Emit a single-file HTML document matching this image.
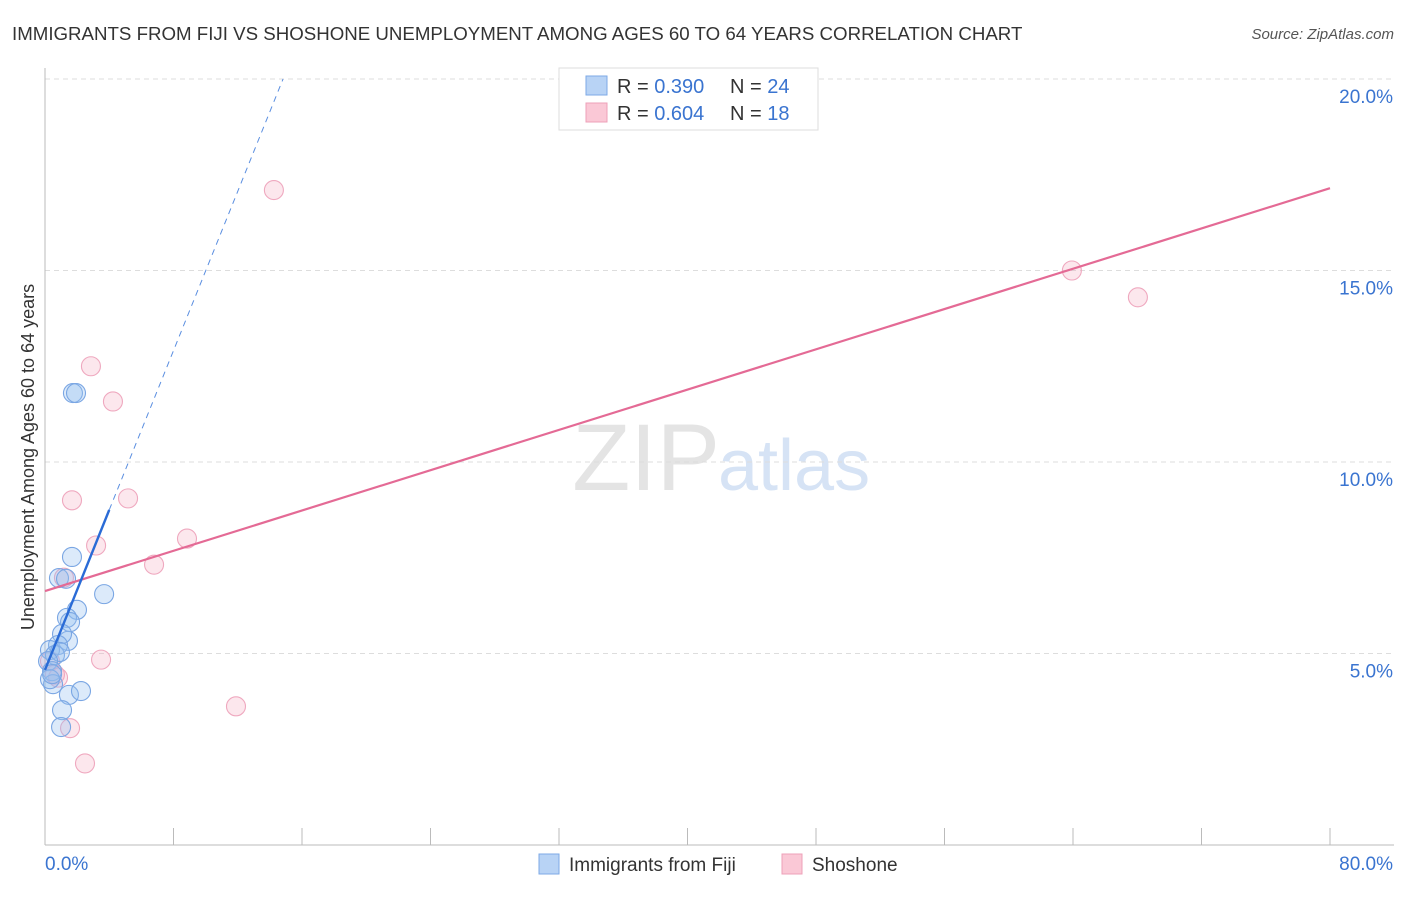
<!DOCTYPE html>
<html><head><meta charset="utf-8"><style>
body{margin:0;background:#fff;font-family:"Liberation Sans",sans-serif;}
svg text{font-family:"Liberation Sans",sans-serif;}
</style></head><body>
<svg id="chart" width="1406" height="892">
<text x="12" y="40" font-size="18.7" fill="#333">IMMIGRANTS FROM FIJI VS SHOSHONE UNEMPLOYMENT AMONG AGES 60 TO 64 YEARS CORRELATION CHART</text>
<text x="1394" y="39" font-size="15" fill="#555" font-style="italic" text-anchor="end">Source: ZipAtlas.com</text>
<text x="720" y="490" font-size="95" fill="#e4e4e4" text-anchor="end" font-family="Liberation Serif">ZIP</text>
<text x="718" y="490" font-size="72" fill="#d6e3f5">atlas</text>
<text transform="translate(34,457) rotate(-90)" font-size="18" fill="#333" text-anchor="middle">Unemployment Among Ages 60 to 64 years</text>
<g id="grid"></g><g id="marks"></g>
<g>
<rect x="559" y="68" width="259" height="62" fill="#fff" stroke="#ddd"/>
<rect x="586" y="76" width="21" height="19" fill="#b8d3f5" stroke="#7ea9e6"/>
<rect x="586" y="103" width="21" height="19" fill="#fac8d6" stroke="#eea0b8"/>
<text x="617" y="93" font-size="20" fill="#333">R = <tspan fill="#3a74d0">0.390</tspan></text>
<text x="730" y="93" font-size="20" fill="#333">N = <tspan fill="#3a74d0">24</tspan></text>
<text x="617" y="120" font-size="20" fill="#333">R = <tspan fill="#3a74d0">0.604</tspan></text>
<text x="730" y="120" font-size="20" fill="#333">N = <tspan fill="#3a74d0"> 18</tspan></text>
</g>
<g>
<rect x="539" y="854" width="20" height="20" fill="#b8d3f5" stroke="#7ea9e6"/>
<text x="569" y="871" font-size="19" fill="#333">Immigrants from Fiji</text>
<rect x="782" y="854" width="20" height="20" fill="#fac8d6" stroke="#eea0b8"/>
<text x="812" y="871" font-size="19" fill="#333">Shoshone</text>
</g>
</svg>
<script>
const yTicks=[5,10,15,20];
const yTickLabels=["5.0%","10.0%","15.0%","20.0%"];
const xTickLabels=["0.0%","80.0%"];
const fijiX=[1.74,1.93,1.68,0.87,1.31,3.68,1.99,1.37,1.56,1.43,1.06,0.81,0.31,0.62,0.93,0.19,0.44,0.5,0.31,1.49,2.24,1.06,1.0,0.44];
const fijiY=[11.8,11.8,7.52,6.97,6.95,6.55,6.14,5.93,5.82,5.33,5.51,5.22,5.09,4.96,5.04,4.8,4.54,4.2,4.33,3.92,4.02,3.52,3.08,4.46];
const shoX=[14.25,63.93,68.04,2.86,4.23,1.68,5.17,3.18,8.84,6.79,1.18,3.49,11.89,1.56,2.49,0.62,0.81,0.31];
const shoY=[17.1,15.0,14.3,12.5,11.58,9.0,9.05,7.82,8.0,7.32,6.98,4.84,3.62,3.05,2.13,4.45,4.37,4.8];
const fitFiji=[0,4.57,4.0,8.75,14.82,20.0];
const fitSho=[0,6.63,80,17.15];

const S=document.getElementById('chart');
const NS='http://www.w3.org/2000/svg';
const X0=45,X1=1330,Y0=845,PX5=191.5;
function sx(v){return X0+(v/80)*(X1-X0);}
function sy(v){return Y0-v/5*PX5;}
function el(t,a,p){const e=document.createElementNS(NS,t);for(const k in a)e.setAttribute(k,a[k]);(p||S).appendChild(e);return e;}
const grid=document.getElementById('grid'),marks=document.getElementById('marks');
yTicks.forEach((t,i)=>{
 const g=el('line',{x1:X0,x2:1394,y1:sy(t),y2:sy(t),stroke:'#ddd','stroke-dasharray':'5,4'},grid);
 
 
 const l=el('text',{x:1393,y:sy(t)+24,'font-size':19,fill:'#3a74d0','text-anchor':'end'},grid);
 l.textContent=yTickLabels[i];
 
 
});
el('line',{x1:X0,x2:X0,y1:68,y2:Y0,stroke:'#bbb'},grid);
el('line',{x1:X0,x2:1394,y1:Y0,y2:Y0,stroke:'#bbb'},grid);
for(let i=1;i<=10;i++){const x=sx(i*8);const t=el('line',{x1:x,x2:x,y1:828,y2:Y0,stroke:'#bbb'},grid);
 
 }
const xl0=el('text',{x:45,y:870,'font-size':19,fill:'#3a74d0'},grid);xl0.textContent=xTickLabels[0];


const xl1=el('text',{x:1393,y:870,'font-size':19,fill:'#3a74d0','text-anchor':'end'},grid);xl1.textContent=xTickLabels[1];


shoX.forEach((v,i)=>{const c=el('circle',{cx:sx(v),cy:sy(shoY[i]),r:9.5,fill:'rgba(246,168,192,0.28)',stroke:'#efa8bf','stroke-width':1.1},marks);
 
 });
fijiX.forEach((v,i)=>{const c=el('circle',{cx:sx(v),cy:sy(fijiY[i]),r:9.5,fill:'rgba(150,190,240,0.33)',stroke:'#7aa6e3','stroke-width':1.1},marks);
 
 });
const ls=el('line',{x1:sx(fitSho[0]),y1:sy(fitSho[1]),x2:sx(fitSho[2]),y2:sy(fitSho[3]),stroke:'#e46a95','stroke-width':2.2},marks);


const lf=el('line',{x1:sx(fitFiji[0]),y1:sy(fitFiji[1]),x2:sx(fitFiji[2]),y2:sy(fitFiji[3]),stroke:'#2a6bd6','stroke-width':2.4},marks);


const ld=el('line',{x1:sx(fitFiji[2]),y1:sy(fitFiji[3]),x2:sx(fitFiji[4]),y2:sy(fitFiji[5]),stroke:'#5a8ee0','stroke-width':1,'stroke-dasharray':'6,5'},marks);


</script>
</body></html>
